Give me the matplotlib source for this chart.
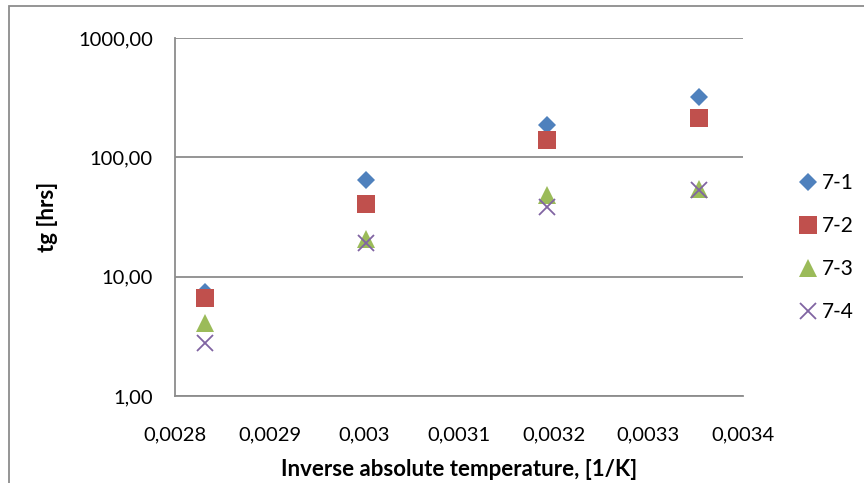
import matplotlib
matplotlib.use("Agg")
import matplotlib.pyplot as plt
from matplotlib.patches import Rectangle
from matplotlib.ticker import FixedLocator, FuncFormatter

plt.rcParams['font.family'] = ['Lato', 'DejaVu Sans']

# Inverse absolute temperature (1/K) for 80, 60, 40 and 25 °C
inv_temp = [0.0028317, 0.0030016, 0.0031934, 0.0033540]

series_names = ["7-1", "7-2", "7-3", "7-4"]
tg_7_1 = [7.4, 65.0, 188.0, 318.0]
tg_7_2 = [6.6, 40.5, 139.0, 213.0]
tg_7_3 = [4.1, 20.5, 48.5, 54.0]
tg_7_4 = [2.8, 19.3, 38.5, 53.0]

x_ticks = [0.0028, 0.0029, 0.0030, 0.0031, 0.0032, 0.0033, 0.0034]
x_tick_labels = ["0,0028", "0,0029", "0,003", "0,0031", "0,0032", "0,0033", "0,0034"]
y_ticks = [1, 10, 100, 1000]
y_tick_labels = ["1,00", "10,00", "100,00", "1000,00"]

W, H = 864, 483
fig = plt.figure(figsize=(W / 100, H / 100), dpi=100)

# chart border
fig.patches.append(Rectangle((9 / W, -0.05), 1.2, 1 - 6 / H + 0.05,
                             transform=fig.transFigure, fill=False,
                             edgecolor='#8c8c8c', linewidth=1.3))

left, right, top, bottom = 175, 743, 38, 396
ax = fig.add_axes([left / W, 1 - bottom / H, (right - left) / W, (bottom - top) / H])

styles = [
    dict(marker='D', color='#4F81BD', ms=9.3, mew=0),
    dict(marker='s', color='#C0504D', ms=13, mew=0),
    dict(marker='^', color='#9BBB59', ms=13, mew=0),
    dict(marker='x', color='#8064A2', ms=11, mew=1.3),
]
for name, vals, st in zip(series_names, [tg_7_1, tg_7_2, tg_7_3, tg_7_4], styles):
    ax.plot(inv_temp, vals, linestyle='none', label=name, marker=st['marker'],
            color=st['color'], markersize=st['ms'], markeredgewidth=st['mew'],
            zorder=3)

ax.set_yscale('log')
ax.set_ylim(1, 1000)
ax.set_xlim(0.0028, 0.0034)
ax.yaxis.set_major_locator(FixedLocator(y_ticks))
ax.yaxis.set_minor_locator(FixedLocator([]))
ax.yaxis.set_major_formatter(FuncFormatter(lambda v, p: y_tick_labels[y_ticks.index(round(v))] if round(v) in y_ticks else ""))
ax.set_xticks(x_ticks)
ax.set_xticklabels(x_tick_labels)

ax.grid(axis='y', color='#8c8c8c', linewidth=1.3)
ax.set_axisbelow(True)
for s in ['top', 'right']:
    ax.spines[s].set_visible(False)
for s in ['left', 'bottom']:
    ax.spines[s].set_color('#8c8c8c')
    ax.spines[s].set_linewidth(1.3)
ax.tick_params(axis='both', length=0, labelsize=14.5, colors='black')
ax.tick_params(axis='y', pad=16)
ax.tick_params(axis='x', pad=22)

ax.set_xlabel("Inverse absolute temperature, [1/K]", fontsize=16, fontweight='bold', labelpad=11)
ax.set_ylabel("tg [hrs]", fontsize=16, fontweight='bold', labelpad=14)

ax.legend(loc='center left', bbox_to_anchor=((791 - left) / (right - left), (bottom - 247.5) / (bottom - top)),
          frameon=False, fontsize=15, handlelength=0.8, handletextpad=0.3,
          labelspacing=1.1, borderaxespad=0)

fig.savefig("out.png", dpi=100)
